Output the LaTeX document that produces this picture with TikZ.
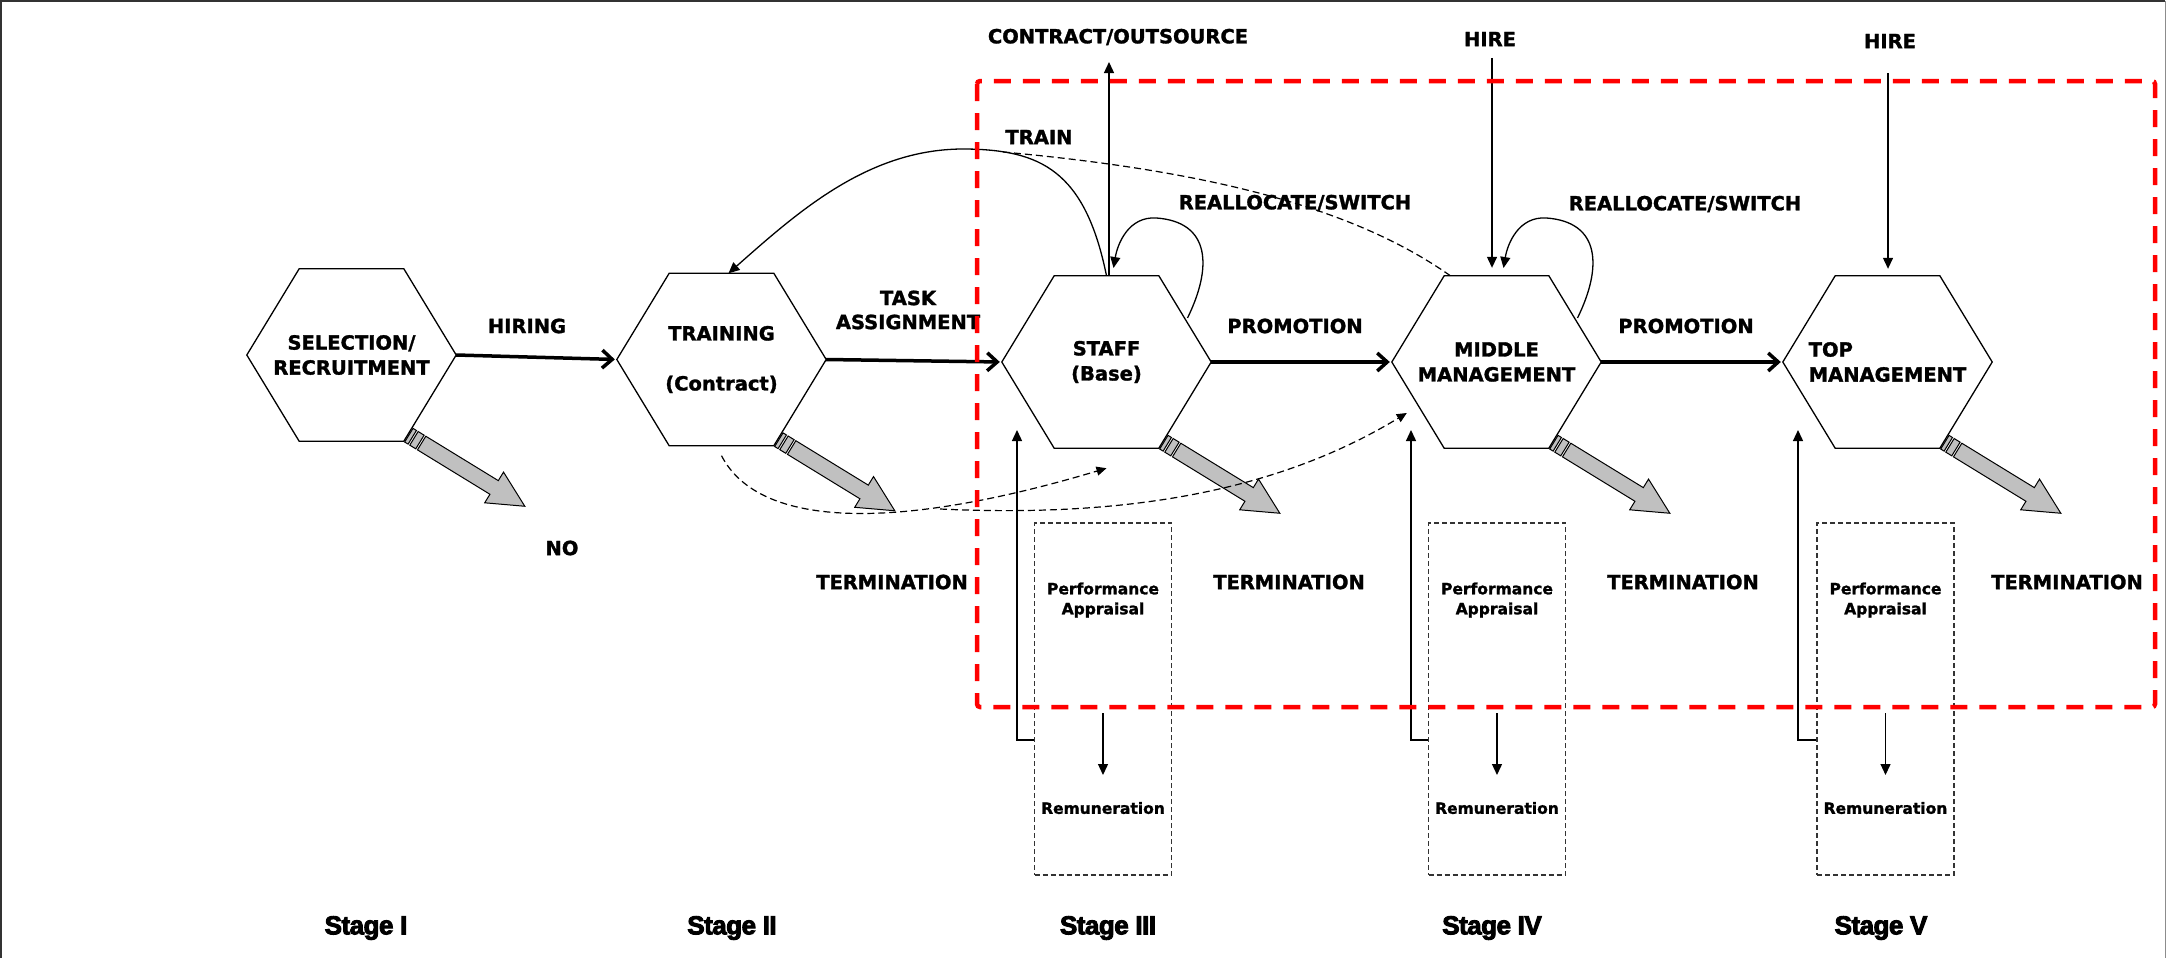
\documentclass[tikz,border=0pt]{standalone}
\usepackage{fontspec}
\setmainfont{DejaVu Sans}[BoldFeatures={FakeBold=1.5}]
\newfontfamily\stagefont{Liberation Sans Bold}[FakeBold=3.5,LetterSpace=-2]
\usetikzlibrary{positioning,arrows.meta,calc}
\definecolor{tgray}{RGB}{192,192,192}
\definecolor{zonered}{RGB}{255,0,0}

\begin{document}
\begin{tikzpicture}[x=1pt,y=-1pt,
 hexn/.style={minimum width=209pt,minimum height=172pt,inner sep=0pt,align=center,font=\fontsize{19.5}{25}\selectfont\bfseries},
 lab/.style={align=center,inner sep=1pt,font=\fontsize{19.5}{24}\selectfont\bfseries},
 sml/.style={align=center,inner sep=1pt,font=\fontsize{15.5}{20}\selectfont\bfseries},
 stg/.style={inner sep=1pt,font=\stagefont\fontsize{26}{30}\selectfont},
 bx/.style={draw=black!80,line width=1.2pt,dash pattern=on 5pt off 3pt,minimum width=137pt,minimum height=352pt},
 a/.style={-{Triangle[length=11pt,width=10pt]},line width=1.3pt},
 ha/.style={-{Straight Barb[length=10pt,width=18pt]},line width=3.5pt,shorten >=2pt},
 dsh/.style={line width=1.2pt,dash pattern=on 7pt off 4pt},
 hx/.style={line width=1.3pt,line join=miter}]
\useasboundingbox (0,0) rectangle (2167,958);
\draw[line width=2pt,black!80] (1,958) -- (1,1) -- (2165,1);
\draw[line width=1.5pt,black!45] (2165.5,1) -- (2165.5,958);
% stages
\node[hexn] (sel) at (351.5,355) {SELECTION/\\RECRUITMENT};
\node[hexn] (trn) at (721.5,359.5) {TRAINING\\[25pt](Contract)};
\node[hexn] (stf) at (1106.5,362) {STAFF\\(Base)};
\node[hexn] (mid) at (1496.5,362) {MIDDLE\\MANAGEMENT};
\node[hexn,align=left] (top) at (1887.5,362) {TOP\\MANAGEMENT};
\foreach \n in {sel,trn,stf,mid,top}
 \draw[hx] (\n.west) -- ($(\n.north west)!.25!(\n.north east)$) -- ($(\n.north west)!.75!(\n.north east)$) -- (\n.east) -- ($(\n.south west)!.75!(\n.south east)$) -- ($(\n.south west)!.25!(\n.south east)$) -- cycle;
\foreach \n in {sel,trn,stf,mid,top}{
 \begin{scope}[shift={($(\n.south west)!.75!(\n.south east)+(5,-6)$)},rotate=-31.5]
 \draw[fill=tgray,line width=1pt] (0,-8) rectangle (4,8) (6,-8) rectangle (13,8) (15,-8) -- (100,-8) -- (100,-18) -- (136,0) -- (100,18) -- (100,8) -- (15,8) -- cycle;
 \end{scope}}
% labels
\node[lab] (hir) at (527,326) {HIRING};
\node[lab] (tsk) at (908,310) {TASK\\ASSIGNMENT};
\node[lab] (pr1) at (1295,326) {PROMOTION};
\node[lab] (pr2) at (1686,326) {PROMOTION};
\node[lab] (cont) at (1118,37) {CONTRACT/OUTSOURCE};
\node[lab] (trl) at (1039,137) {TRAIN};
\node[lab] (rs1) at (1295,203) {REALLOCATE/SWITCH};
\node[lab] (rs2) at (1685,204) {REALLOCATE/SWITCH};
\node[lab] (hr1) at (1490,39) {HIRE};
\node[lab] (hr2) at (1890,41) {HIRE};
\node[lab] (no) at (562,548) {NO};
\foreach \x in {892,1289,1683,2067} \node[lab] (tm\x) at (\x,582) {TERMINATION};
\foreach \r/\x in {I/366,II/732,III/1108,IV/1492,V/1881} \node[stg] (st\r) at (\x,928) {Stage \r};
% flow
\draw[ha] (sel.east) -- (trn.west);\draw[ha] (trn.east) -- (stf.west);
\draw[ha] (stf.east) -- (mid.west);\draw[ha] (mid.east) -- (top.west);
\coordinate (co) at (1109,62);\coordinate (h1) at (1492,58);\coordinate (h2) at (1888,73);
\draw[a] (co |- stf.north) -- (co);
\draw[a,shorten >=8pt] (h1) -- (h1 |- mid.north);\draw[a,shorten >=7pt] (h2) -- (h2 |- top.north);
\foreach \n in {stf,mid}
 \draw[a] ($(\n)+(81,-44)$) .. controls ($(\n)+(106,-95)$) and ($(\n)+(104,-140)$) .. ($(\n)+(50,-144)$) .. controls ($(\n)+(22,-146)$) and ($(\n)+(11,-118)$) .. ($(\n)+(7,-94)$);
\draw[a] (stf.north) .. controls (1085,170) and (1040,150) .. (966,149) .. controls (870,148) and (800,210) .. ([xshift=7pt]trn.north);
\coordinate (tr) at (1003,152);\coordinate (br) at (940,509);
\draw[dsh] (tr) .. controls (1200,170) and (1350,205) .. ($(mid.north west)!.28!(mid.north east)$);
\draw[dsh,-{Triangle[length=10pt,width=9pt]}] ([yshift=-10pt]trn.south) .. controls (760,530) and (900,530) .. ([yshift=-20pt]stf.south);
\draw[dsh,-{Triangle[length=10pt,width=9pt]}] (br) .. controls (1130,518) and (1280,490) .. ($(mid.west)+(15,51)$);
% appraisal boxes
\foreach \i/\x/\f in {3/1103/1017,4/1497/1411,5/1885.5/1798}{
 \node[bx] (bx\i) at (\x,699) {};
 \node[sml] (pa\i) at (\x,600) {Performance\\Appraisal};
 \node[sml] (rm\i) at (\x,808) {Remuneration};
 \coordinate (fb\i) at (\f,430);
 \draw[a,shorten <=113pt,shorten >=33pt] (pa\i.center) -- (rm\i.center);
 \draw[a] ([yshift=-41pt]bx\i.west) -| (fb\i);}
\draw[zonered,line width=4.5pt,dash pattern=on 17pt off 12pt,rounded corners=3pt] (977,81) rectangle (2155,707);
\end{tikzpicture}
\end{document}
